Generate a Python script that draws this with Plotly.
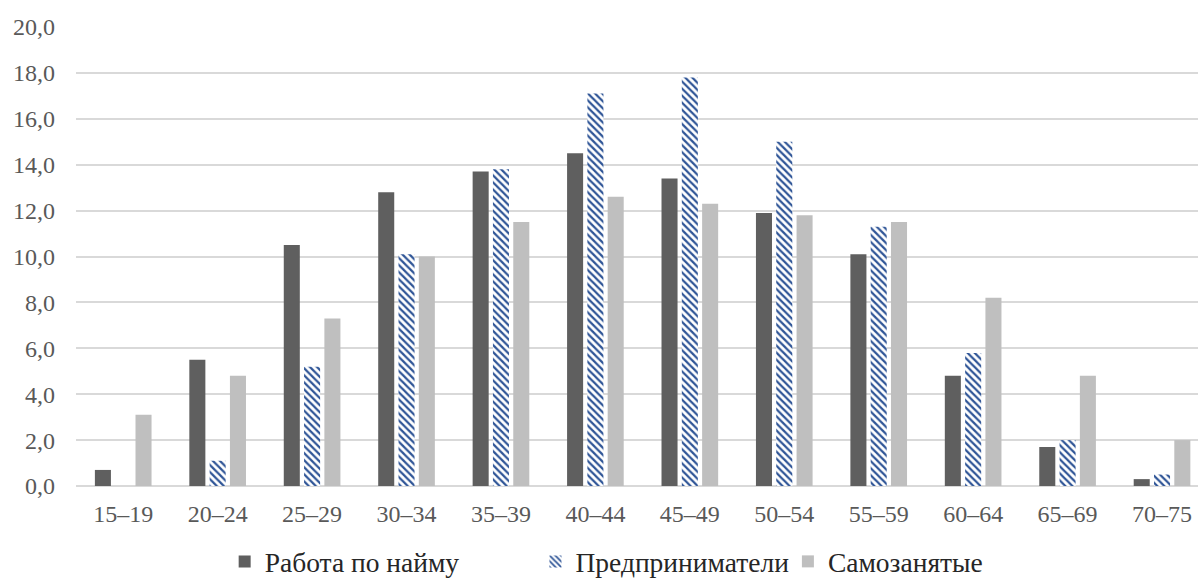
import plotly.graph_objects as go

categories = ["15–19", "20–24", "25–29", "30–34", "35–39", "40–44",
              "45–49", "50–54", "55–59", "60–64", "65–69", "70–75"]
hired = [0.7, 5.5, 10.5, 12.8, 13.7, 14.5, 13.4, 11.9, 10.1, 4.8, 1.7, 0.3]
entrepreneurs = [0.0, 1.1, 5.2, 10.1, 13.8, 17.1, 17.8, 15.0, 11.3, 5.8, 2.0, 0.5]
self_employed = [3.1, 4.8, 7.3, 10.0, 11.5, 12.6, 12.3, 11.8, 11.5, 8.2, 4.8, 2.0]

names = ["Работа по найму", "Предприниматели", "Самозанятые"]
y_ticks = [0, 2, 4, 6, 8, 10, 12, 14, 16, 18, 20]

FONT = "Liberation Serif"

fig = go.Figure()
fig.add_trace(go.Bar(x=categories, y=hired, name=names[0], legend="legend",
                     marker=dict(color="#5f5f5f", line=dict(width=0))))
fig.add_trace(go.Bar(x=categories, y=entrepreneurs, name=names[1], legend="legend2",
                     marker=dict(color="#2f5597", line=dict(width=0),
                                 pattern=dict(shape="\\", fgcolor="#2f5597",
                                              bgcolor="#ffffff", size=5,
                                              solidity=0.45, fillmode="replace",
                                              fgopacity=1))))
fig.add_trace(go.Bar(x=categories, y=self_employed, name=names[2], legend="legend3",
                     marker=dict(color="#bfbfbf", line=dict(width=0))))

leg_common = dict(orientation="h", xanchor="left", y=-0.1656, yanchor="middle",
                  font=dict(family=FONT, size=27.5, color="#262626"),
                  itemwidth=30, bgcolor="rgba(0,0,0,0)", borderwidth=0)

fig.update_layout(
    width=1198, height=586,
    margin=dict(l=76, r=0, t=27, b=100),
    paper_bgcolor="white", plot_bgcolor="white",
    barmode="group", bargap=0.355, bargroupgap=0.21,
    separators=", ",
    font=dict(family=FONT, size=24, color="#595959"),
    showlegend=True,
    legend=dict(x=0.1325, **leg_common),
    legend2=dict(x=0.4095, **leg_common),
    legend3=dict(x=0.6345, **leg_common),
)
fig.update_xaxes(range=[-0.5, 11.381], showgrid=False, showline=False, zeroline=False,
                 ticks="", ticklabelstandoff=11, tickfont=dict(family=FONT, size=24, color="#595959"))
fig.update_yaxes(range=[0, 20], tickvals=y_ticks, tickformat=".1f",
                 showgrid=True, gridcolor="#d9d9d9", gridwidth=1.5,
                 zeroline=True, zerolinecolor="#d9d9d9", zerolinewidth=1.5,
                 showline=False, ticks="", ticklabelstandoff=20,
                 tickfont=dict(family=FONT, size=24, color="#595959"))

fig.write_html("out.html", post_script="document.body.style.margin='0';",
               config={"displayModeBar": False})
